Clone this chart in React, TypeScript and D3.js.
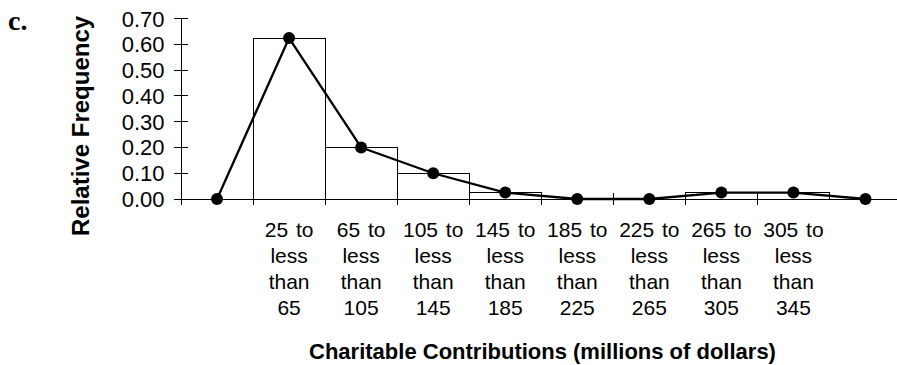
import React from "react";
import * as d3 from "d3";

// Class limits (millions of dollars) and relative frequency of each class
const classLower = [25, 65, 105, 145, 185, 225, 265, 305];
const classUpper = [65, 105, 145, 185, 225, 265, 305, 345];
const relFreq = [0.625, 0.2, 0.1, 0.025, 0, 0, 0.025, 0.025];
const yTickValues = [0, 0.1, 0.2, 0.3, 0.4, 0.5, 0.6, 0.7];

const WIDTH = 897;
const HEIGHT = 365;
const SANS = "'Liberation Sans', Arial, Helvetica, sans-serif";

export default function App() {
  // One empty slot on each side so the polygon closes on the axis
  const slots = d3.range(classLower.length + 2);
  const polyValues = [0, ...relFreq, 0];

  const x = d3.scaleBand<number>().domain(slots).range([181, 901.5]).padding(0);
  const y = d3.scaleLinear().domain([0, 0.7]).range([199, 18.7]);
  const bw = x.bandwidth();
  const cx = (i: number) => (x(i) as number) + bw / 2;

  const line = d3
    .line<number>()
    .x((_, i) => cx(i))
    .y((v) => y(v));

  const boundaries = slots.slice(1, slots.length - 1).map((i) => x(i) as number);
  const labels = classLower.map((lo, i) => [`${lo} to`, "less", "than", `${classUpper[i]}`]);
  const lineBaselines = [237, 263, 289, 315];

  return (
    <svg
      width={WIDTH}
      height={HEIGHT}
      style={{ position: "absolute", left: 0, top: 0, background: "#fff" }}
    >
      <rect width={WIDTH} height={HEIGHT} fill="#fff" />

      {/* panel letter */}
      <text
        x={8}
        y={30}
        fontFamily="'Liberation Serif', 'Times New Roman', serif"
        fontWeight="bold"
        fontSize={28}
        fill="#000"
      >
        c.
      </text>

      {/* histogram bars */}
      {relFreq.map((v, i) => (
        <rect
          key={`bar-${i}`}
          x={x(i + 1) as number}
          y={y(v)}
          width={bw}
          height={y(0) - y(v)}
          fill="#fff"
          stroke="#000"
          strokeWidth={1}
          shapeRendering="crispEdges"
        />
      ))}

      {/* x axis */}
      <line x1={181} x2={901.5} y1={y(0)} y2={y(0)} stroke="#000" strokeWidth={1} shapeRendering="crispEdges" />
      {boundaries.map((bx, i) => (
        <line
          key={`xt-${i}`}
          x1={bx}
          x2={bx}
          y1={y(0) - 6}
          y2={y(0) + 6}
          stroke="#000"
          strokeWidth={1}
          shapeRendering="crispEdges"
        />
      ))}

      {/* y axis */}
      <line x1={181} x2={181} y1={y(0.7)} y2={y(0) + 6} stroke="#000" strokeWidth={1} shapeRendering="crispEdges" />
      {yTickValues.map((t) => (
        <g key={`yt-${t}`}>
          <line
            x1={174}
            x2={188}
            y1={y(t)}
            y2={y(t)}
            stroke="#000"
            strokeWidth={1}
            shapeRendering="crispEdges"
          />
          <text
            x={164.5}
            y={y(t)}
            dy="0.36em"
            textAnchor="end"
            fontFamily={SANS}
            fontSize={22}
            fill="#000"
          >
            {d3.format(".2f")(t)}
          </text>
        </g>
      ))}

      {/* frequency polygon */}
      <path d={line(polyValues) || ""} fill="none" stroke="#000" strokeWidth={2.3} strokeLinejoin="round" />
      {polyValues.map((v, i) => (
        <circle key={`pt-${i}`} cx={cx(i)} cy={y(v)} r={6} fill="#000" />
      ))}

      {/* class labels */}
      {labels.map((lines, i) =>
        lines.map((txt, j) => (
          <text
            key={`lbl-${i}-${j}`}
            x={cx(i + 1)}
            y={lineBaselines[j]}
            textAnchor="middle"
            fontFamily={SANS}
            fontSize={21}
            wordSpacing={2}
            fill="#000"
          >
            {txt}
          </text>
        ))
      )}

      {/* axis titles */}
      <text
        transform="translate(88.5,236) rotate(-90)"
        textAnchor="start"
        fontFamily={SANS}
        fontWeight="bold"
        fontSize={24}
        fill="#000"
      >
        Relative Frequency
      </text>
      <text
        x={542.5}
        y={358.5}
        textAnchor="middle"
        fontFamily={SANS}
        fontWeight="bold"
        fontSize={22}
        fill="#000"
      >
        Charitable Contributions (millions of dollars)
      </text>
    </svg>
  );
}
